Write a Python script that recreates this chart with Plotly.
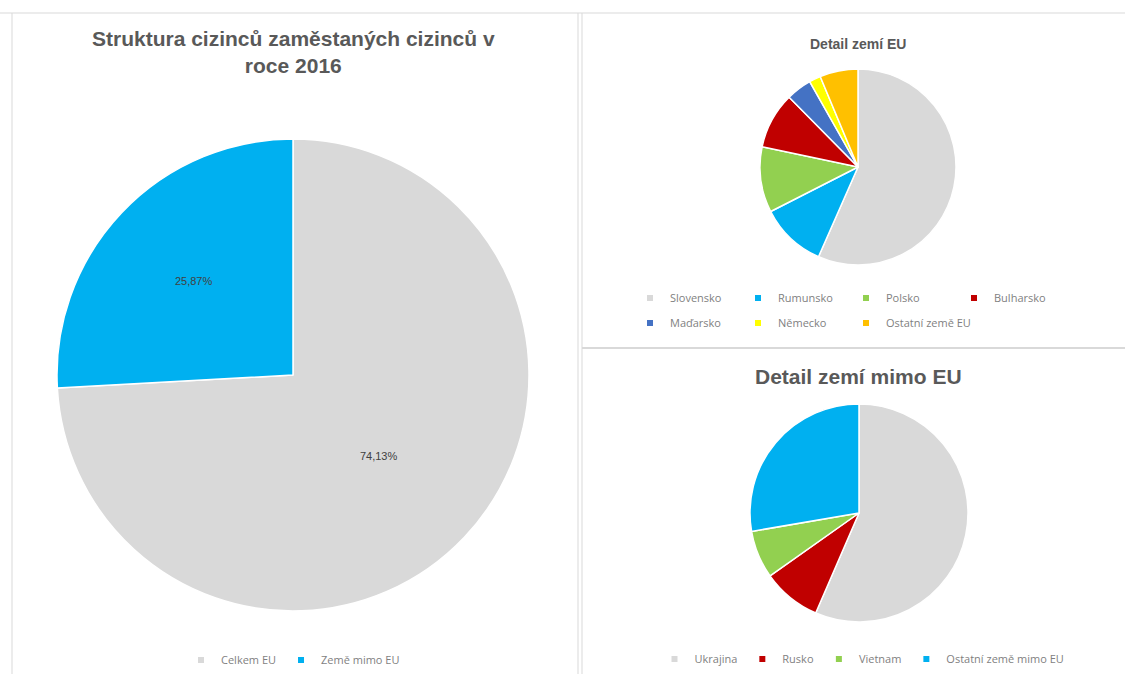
import plotly.graph_objects as go

W, H = 1125, 674

# ---- data ----
main_labels = ["Celkem EU", "Země mimo EU"]
main_values = [74.13, 25.87]
main_colors = ["#D9D9D9", "#00B0F0"]

eu_labels = ["Slovensko", "Rumunsko", "Polsko", "Bulharsko", "Maďarsko", "Německo", "Ostatní země EU"]
eu_values = [56.6, 10.9, 10.8, 9.3, 4.2, 1.9, 6.3]
eu_colors = ["#D9D9D9", "#00B0F0", "#92D050", "#C00000", "#4472C4", "#FFFF00", "#FFC000"]

non_labels = ["Ukrajina", "Rusko", "Vietnam", "Ostatní země mimo EU"]
non_values = [56.5, 8.7, 7.1, 27.7]
non_colors = ["#D9D9D9", "#C00000", "#92D050", "#00B0F0"]


def dom(x0, x1, y0, y1):
    return dict(x=[x0 / W, x1 / W], y=[1 - y1 / H, 1 - y0 / H])


main_text = [("%.2f%%" % v).replace(".", ",") for v in main_values]

fig = go.Figure()
fig.add_trace(go.Pie(
    labels=main_labels, values=main_values, sort=False, direction="clockwise",
    rotation=0, marker=dict(colors=main_colors, line=dict(color="white", width=1.5)),
    text=main_text, textinfo="text", textposition="inside",
    insidetextorientation="horizontal",
    textfont=dict(family="Liberation Sans", size=11, color="#404040"),
    domain=dom(57, 529, 134, 616), showlegend=False, hoverinfo="label+percent",
))
fig.add_trace(go.Pie(
    labels=eu_labels, values=eu_values, sort=False, direction="clockwise",
    rotation=0, marker=dict(colors=eu_colors, line=dict(color="white", width=1.5)),
    textinfo="none", domain=dom(760, 956, 69, 265), showlegend=False,
))
fig.add_trace(go.Pie(
    labels=non_labels, values=non_values, sort=False, direction="clockwise",
    rotation=0, marker=dict(colors=non_colors, line=dict(color="white", width=1.5)),
    textinfo="none", domain=dom(750, 968, 404, 622), showlegend=False,
))


# legend entries (small square keys like the original)
def add_keys(labels, colors, legend_for_index):
    for i, (lab, col) in enumerate(zip(labels, colors)):
        fig.add_trace(go.Scatter(
            x=[None], y=[None], mode="markers", name=lab,
            marker=dict(symbol="square", size=6, color=col),
            legend=legend_for_index(i), hoverinfo="skip",
        ))


def eu_legend(i):
    if i < 4:
        return "legend2"
    if i < 6:
        return "legend4"
    return "legend5"


add_keys(main_labels, main_colors, lambda i: "legend")
add_keys(eu_labels, eu_colors, eu_legend)
add_keys(non_labels, non_colors, lambda i: "legend3")

legfont = dict(family="Open Sans", size=11, color="#7F7F7F")
line_col = "#D9D9D9"
shapes = [
    dict(type="line", xref="paper", yref="paper", x0=0, x1=1, y0=1 - 13 / H, y1=1 - 13 / H,
         line=dict(color=line_col, width=1)),
    dict(type="line", xref="paper", yref="paper", x0=12 / W, x1=12 / W, y0=0, y1=1 - 13 / H,
         line=dict(color=line_col, width=1)),
    dict(type="line", xref="paper", yref="paper", x0=578 / W, x1=578 / W, y0=0, y1=1 - 13 / H,
         line=dict(color=line_col, width=1)),
    dict(type="line", xref="paper", yref="paper", x0=582 / W, x1=582 / W, y0=0, y1=1 - 13 / H,
         line=dict(color=line_col, width=1)),
    dict(type="line", xref="paper", yref="paper", x0=582 / W, x1=1, y0=1 - 348 / H, y1=1 - 348 / H,
         line=dict(color=line_col, width=2)),
]

common = dict(orientation="h", font=legfont, bgcolor="rgba(0,0,0,0)", yanchor="middle")
fig.update_layout(
    width=W, height=H, margin=dict(l=0, r=0, t=0, b=0, autoexpand=False),
    paper_bgcolor="white", plot_bgcolor="white",
    xaxis=dict(visible=False), yaxis=dict(visible=False),
    shapes=shapes,
    legend=dict(x=293 / W, xanchor="center", y=1 - 660 / H, **common),
    legend2=dict(x=630 / W, xanchor="left", y=1 - 298 / H, entrywidth=63, entrywidthmode="pixels", **common),
    legend4=dict(x=630 / W, xanchor="left", y=1 - 323 / H, entrywidth=63, entrywidthmode="pixels", **common),
    legend5=dict(x=846 / W, xanchor="left", y=1 - 323 / H, **common),
    legend3=dict(x=862 / W, xanchor="center", y=1 - 659 / H, **common),
    annotations=[
        dict(text="<b>Struktura cizinců zaměstaných cizinců v<br>roce 2016</b>", xref="paper", yref="paper",
             x=293 / W, y=1 - 52 / H, xanchor="center", yanchor="middle", showarrow=False,
             font=dict(family="Liberation Sans", size=21, color="#595959")),
        dict(text="<b>Detail zemí EU</b>", xref="paper", yref="paper",
             x=858 / W, y=1 - 44 / H, xanchor="center", yanchor="middle", showarrow=False,
             font=dict(family="Liberation Sans", size=14, color="#595959")),
        dict(text="<b>Detail zemí mimo EU</b>", xref="paper", yref="paper",
             x=858 / W, y=1 - 376 / H, xanchor="center", yanchor="middle", showarrow=False,
             font=dict(family="Liberation Sans", size=21, color="#595959")),
    ],
)

fig.write_html("out.html")
